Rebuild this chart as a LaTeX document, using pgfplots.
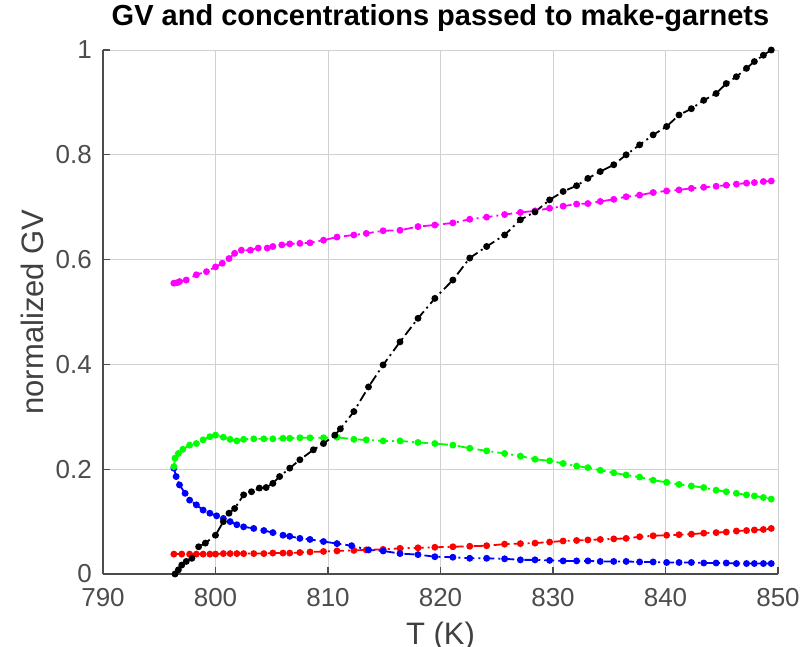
\documentclass[border=0pt]{standalone}
\usepackage{fontspec}
\setmainfont{Liberation Sans}
\usepackage{pgfplots}
\pgfplotsset{compat=1.18}
\usepackage{pgfplotstable}

% normalized growth value
\pgfplotstableread{
T GV
796.4 0.000
796.7 0.008
797.0 0.017
797.4 0.024
797.9 0.030
798.5 0.052
799.1 0.059
800.0 0.074
800.7 0.100
801.2 0.116
801.7 0.125
802.5 0.151
803.2 0.157
803.9 0.164
804.5 0.165
805.1 0.173
805.7 0.186
806.6 0.202
807.5 0.218
808.7 0.237
809.6 0.249
810.6 0.265
811.1 0.277
812.3 0.310
813.6 0.357
814.9 0.399
816.4 0.443
818.0 0.488
819.5 0.526
821.1 0.561
822.6 0.603
824.1 0.625
825.7 0.647
827.1 0.676
828.4 0.691
829.7 0.714
830.9 0.730
832.1 0.741
833.1 0.755
834.2 0.768
835.4 0.781
836.5 0.800
837.7 0.819
838.9 0.838
840.1 0.854
841.2 0.876
842.3 0.888
843.4 0.904
844.5 0.917
845.4 0.936
846.3 0.949
847.2 0.965
847.9 0.978
848.7 0.990
849.4 1.000
}\gvdata

% concentration series
\pgfplotstableread{
T C
796.3 0.555
796.6 0.556
796.8 0.558
797.4 0.561
798.3 0.571
799.2 0.577
800.0 0.586
800.6 0.593
801.2 0.602
801.7 0.612
802.3 0.618
803.1 0.618
803.8 0.622
804.6 0.622
805.1 0.625
805.9 0.628
806.6 0.630
807.5 0.631
808.4 0.632
809.6 0.637
810.8 0.643
812.3 0.647
813.4 0.650
814.9 0.655
816.4 0.656
818.0 0.663
819.5 0.666
821.1 0.670
822.6 0.677
824.1 0.681
825.7 0.686
827.1 0.690
828.4 0.693
829.7 0.698
830.9 0.702
832.1 0.706
833.1 0.707
834.2 0.711
835.4 0.715
836.5 0.720
837.7 0.723
838.9 0.728
840.1 0.731
841.2 0.733
842.3 0.736
843.4 0.738
844.5 0.740
845.4 0.742
846.3 0.744
847.2 0.746
847.9 0.747
848.7 0.749
849.4 0.750
}\cmag

\pgfplotstableread{
T C
796.3 0.205
796.4 0.221
796.7 0.230
797.1 0.238
797.7 0.246
798.3 0.249
798.9 0.256
799.5 0.262
800.0 0.265
800.7 0.261
801.3 0.257
801.9 0.254
802.5 0.257
803.4 0.258
804.3 0.258
805.1 0.258
806.0 0.259
806.6 0.259
807.5 0.260
808.4 0.260
809.6 0.260
810.8 0.261
812.3 0.257
813.4 0.256
814.9 0.254
816.4 0.254
818.0 0.251
819.5 0.249
821.1 0.246
822.6 0.240
824.1 0.235
825.7 0.230
827.1 0.225
828.4 0.219
829.7 0.216
830.9 0.211
832.1 0.206
833.1 0.203
834.2 0.198
835.4 0.193
836.5 0.189
837.7 0.185
838.9 0.179
840.1 0.175
841.2 0.171
842.3 0.168
843.4 0.165
844.5 0.160
845.4 0.157
846.3 0.154
847.2 0.151
847.9 0.149
848.7 0.146
849.4 0.143
}\cgreen

\pgfplotstableread{
T C
796.3 0.038
797.0 0.038
797.7 0.038
798.3 0.038
798.9 0.038
799.5 0.038
800.0 0.038
800.7 0.039
801.3 0.039
801.9 0.039
802.5 0.039
803.4 0.039
804.3 0.039
805.1 0.040
806.0 0.040
806.6 0.040
807.5 0.041
808.4 0.042
809.6 0.043
810.8 0.044
812.3 0.045
813.4 0.046
814.9 0.047
816.4 0.049
818.0 0.050
819.5 0.051
821.1 0.052
822.6 0.053
824.1 0.054
825.7 0.057
827.1 0.058
828.4 0.059
829.7 0.061
830.9 0.063
832.1 0.064
833.1 0.065
834.2 0.066
835.4 0.067
836.5 0.068
837.7 0.071
838.9 0.073
840.1 0.074
841.2 0.075
842.3 0.076
843.4 0.078
844.5 0.079
845.4 0.080
846.3 0.082
847.2 0.083
847.9 0.084
848.7 0.085
849.4 0.087
}\cred

\pgfplotstableread{
T C
796.3 0.202
796.5 0.186
796.8 0.170
797.3 0.154
797.7 0.141
798.3 0.132
798.9 0.122
799.5 0.116
800.1 0.111
800.7 0.106
801.3 0.100
801.9 0.094
802.5 0.090
803.4 0.087
804.3 0.083
805.1 0.079
806.0 0.074
806.6 0.072
807.5 0.068
808.4 0.066
809.6 0.062
810.8 0.058
812.1 0.054
813.6 0.046
814.9 0.044
816.4 0.039
818.0 0.037
819.5 0.033
821.1 0.032
822.6 0.030
824.1 0.030
825.7 0.029
827.1 0.027
828.4 0.027
829.7 0.026
830.9 0.025
832.1 0.025
833.1 0.025
834.2 0.024
835.4 0.024
836.5 0.024
837.7 0.023
838.9 0.023
840.1 0.022
841.2 0.022
842.3 0.022
843.4 0.021
844.5 0.021
845.4 0.021
846.3 0.020
847.2 0.020
847.9 0.020
848.7 0.020
849.4 0.020
}\cblue

\pgfplotsset{
  dashdot/.style={line width=1.8pt, dash pattern=on 10pt off 4pt on 2pt off 4pt,
    mark=*, mark size=2.5pt, mark options={solid}},
}

\begin{document}
\begin{tikzpicture}
\clip (-103pt,-72pt) rectangle (707pt,574pt);
\begin{axis}[
  at={(0pt,0pt)}, anchor=south west,
  scale only axis, width=675pt, height=524pt,
  xmin=790, xmax=850, ymin=0, ymax=1,
  xtick={790,800,810,820,830,840,850},
  ytick={0,0.2,0.4,0.6,0.8,1},
  grid=major, grid style={black!18, line width=0.9pt},
  axis x line*=bottom, axis y line*=left,
  axis line style={-, black!70, line width=1.2pt},
  tick style={black!70, line width=1.2pt},
  tick align=inside, major tick length=7pt,
  tick label style={font=\fontsize{26}{28}\selectfont, text=black!70},
  xticklabel style={anchor=north, inner sep=0pt, yshift=-14pt},
  yticklabel style={anchor=east, inner sep=0pt, xshift=-11pt},
  /pgf/number format/assume math mode=true,
  title={GV and concentrations passed to make-garnets},
  title style={font=\bfseries\fontsize{29}{32}\selectfont, at={(axis description cs:0.5,1)},
    anchor=base, inner sep=0pt, yshift=18pt},
  xlabel={T (K)}, ylabel={normalized GV},
  xlabel style={font=\fontsize{31}{34}\selectfont, text=black!75,
    at={(axis description cs:0.5,0)}, anchor=north, inner sep=0pt, yshift=-48pt},
  ylabel style={font=\fontsize{31}{34}\selectfont, text=black!75,
    at={(axis description cs:-0.105,0.5)}, anchor=center, inner sep=0pt},
]
\addplot[dashdot, color=red] table[x=T, y=C] {\cred};
\addplot[dashdot, color=blue] table[x=T, y=C] {\cblue};
\addplot[dashdot, color={rgb,1:red,0;green,1;blue,0}] table[x=T, y=C] {\cgreen};
\addplot[dashdot, color={rgb,1:red,1;green,0;blue,1}] table[x=T, y=C] {\cmag};
\addplot[dashdot, color=black] table[x=T, y=GV] {\gvdata};
\end{axis}
\end{tikzpicture}
\end{document}
